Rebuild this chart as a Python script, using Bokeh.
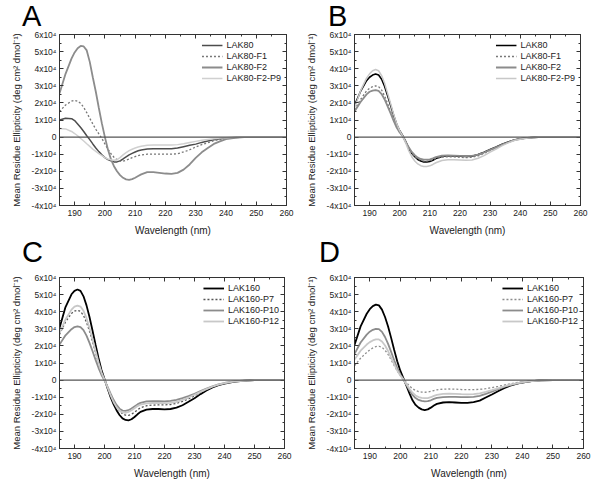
from bokeh.plotting import figure
from bokeh.models import (FixedTicker, LinearAxis, Span, Legend, LegendItem, Range1d, Div)
from bokeh.layouts import column, row
from bokeh.embed import file_html
from bokeh.resources import INLINE

# ---------------- data (ellipticity in units of 1e4 deg cm2 dmol-1) ----------------
wavelength = [185, 187, 189, 190, 191, 192, 193, 194, 195, 196, 197, 198, 199, 200,
              201, 202, 203, 204, 205, 206, 207, 208, 209, 210, 211, 212, 214, 216,
              218, 220, 222, 224, 226, 228, 230, 232, 234, 236, 238, 240, 243, 246,
              250, 255, 260]

# Panel A
a_lak80 = [1.0, 1.1, 1.08, 0.97, 0.77, 0.56, 0.33, 0.08, -0.15, -0.4, -0.64, -0.85, -1.04, -1.2,
           -1.32, -1.39, -1.45, -1.45, -1.39, -1.28, -1.16, -1.04, -0.95, -0.87, -0.8, -0.75, -0.7, -0.68,
           -0.68, -0.68, -0.68, -0.64, -0.56, -0.48, -0.41, -0.31, -0.23, -0.15, -0.1, -0.06, -0.02, 0.0,
           0.0, 0.0, 0.0]
a_f1 = [1.49, 1.88, 2.1, 2.15, 2.1, 1.97, 1.74, 1.43, 1.1, 0.77, 0.46, 0.19, -0.08, -0.4,
        -0.7, -0.97, -1.18, -1.32, -1.41, -1.41, -1.35, -1.28, -1.2, -1.14, -1.08, -1.04, -1.0, -0.99,
        -0.99, -1.0, -1.0, -0.97, -0.87, -0.74, -0.58, -0.44, -0.33, -0.21, -0.14, -0.08, -0.02, 0.0,
        0.0, 0.0, 0.0]
a_f2 = [2.55, 3.7, 4.6, 4.95, 5.2, 5.33, 5.3, 5.07, 4.4, 3.5, 2.65, 1.7, 0.8, 0.0,
        -0.73, -1.3, -1.7, -2.0, -2.22, -2.38, -2.47, -2.5, -2.46, -2.38, -2.28, -2.18, -2.05, -2.05,
        -2.09, -2.13, -2.15, -2.09, -1.9, -1.6, -1.22, -0.89, -0.64, -0.4, -0.25, -0.12, -0.04, 0.0,
        0.0, 0.0, 0.0]
a_p9 = [0.5, 0.48, 0.33, 0.21, 0.08, -0.08, -0.23, -0.39, -0.54, -0.7, -0.83, -0.97, -1.08, -1.2,
        -1.28, -1.33, -1.35, -1.32, -1.2, -1.04, -0.91, -0.79, -0.71, -0.64, -0.58, -0.54, -0.48, -0.46,
        -0.46, -0.46, -0.46, -0.44, -0.39, -0.31, -0.25, -0.19, -0.14, -0.1, -0.06, -0.04, 0.0, 0.0,
        0.0, 0.0, 0.0]

# Panel B
b_lak80 = [1.85, 2.67, 3.3, 3.5, 3.63, 3.69, 3.63, 3.38, 2.96, 2.42, 1.85, 1.27, 0.75, 0.37,
           0.08, -0.27, -0.65, -0.94, -1.15, -1.31, -1.4, -1.46, -1.46, -1.42, -1.35, -1.25, -1.13, -1.1,
           -1.1, -1.12, -1.13, -1.12, -1.02, -0.88, -0.73, -0.58, -0.42, -0.29, -0.17, -0.1, -0.04, 0.0,
           0.0, 0.0, 0.0]
b_f1 = [1.6, 2.2, 2.7, 2.85, 2.95, 3.0, 2.95, 2.75, 2.4, 1.95, 1.5, 1.03, 0.6, 0.28,
        0.05, -0.28, -0.65, -0.93, -1.13, -1.27, -1.35, -1.4, -1.4, -1.38, -1.32, -1.25, -1.17, -1.15,
        -1.16, -1.18, -1.2, -1.18, -1.1, -0.95, -0.78, -0.62, -0.45, -0.31, -0.19, -0.11, -0.04, 0.0,
        0.0, 0.0, 0.0]
b_f2 = [1.5, 2.05, 2.5, 2.65, 2.72, 2.75, 2.7, 2.52, 2.2, 1.8, 1.38, 0.95, 0.56, 0.27,
        0.05, -0.27, -0.6, -0.87, -1.06, -1.2, -1.28, -1.32, -1.32, -1.3, -1.24, -1.17, -1.09, -1.07,
        -1.08, -1.1, -1.11, -1.1, -1.02, -0.9, -0.75, -0.6, -0.44, -0.3, -0.18, -0.1, -0.03, 0.0,
        0.0, 0.0, 0.0]
b_p9 = [1.7, 2.7, 3.45, 3.7, 3.88, 3.95, 3.88, 3.6, 3.15, 2.55, 1.95, 1.33, 0.78, 0.38,
        0.06, -0.35, -0.8, -1.15, -1.4, -1.57, -1.67, -1.72, -1.72, -1.68, -1.6, -1.5, -1.37, -1.32,
        -1.32, -1.34, -1.36, -1.34, -1.24, -1.08, -0.88, -0.7, -0.5, -0.34, -0.2, -0.12, -0.04, 0.0,
        0.0, 0.0, 0.0]

# Panel C
c_lak160 = [3.04, 4.27, 5.02, 5.22, 5.3, 5.22, 4.9, 4.37, 3.69, 2.9, 2.08, 1.29, 0.59, 0.06,
            -0.47, -0.98, -1.41, -1.76, -2.04, -2.24, -2.33, -2.35, -2.29, -2.16, -2.0, -1.86, -1.73, -1.69,
            -1.69, -1.71, -1.69, -1.61, -1.47, -1.27, -1.06, -0.82, -0.61, -0.43, -0.29, -0.2, -0.1, -0.04,
            0.0, 0.0, 0.0]
c_p7 = [2.67, 3.4, 3.9, 4.04, 4.08, 4.02, 3.78, 3.38, 2.86, 2.25, 1.62, 1.0, 0.45, 0.04,
        -0.4, -0.85, -1.25, -1.56, -1.8, -1.97, -2.05, -2.06, -2.0, -1.88, -1.74, -1.62, -1.5, -1.46,
        -1.45, -1.45, -1.43, -1.36, -1.25, -1.1, -0.92, -0.73, -0.55, -0.39, -0.27, -0.18, -0.09, -0.04,
        0.0, 0.0, 0.0]
c_p10 = [2.08, 2.62, 2.98, 3.1, 3.14, 3.1, 2.92, 2.6, 2.18, 1.7, 1.2, 0.72, 0.3, -0.02,
         -0.38, -0.78, -1.15, -1.45, -1.67, -1.78, -1.8, -1.76, -1.66, -1.54, -1.42, -1.33, -1.25, -1.23,
         -1.23, -1.24, -1.22, -1.16, -1.06, -0.94, -0.8, -0.64, -0.49, -0.36, -0.25, -0.17, -0.08, -0.03,
         0.0, 0.0, 0.0]
c_p12 = [2.75, 3.55, 4.12, 4.3, 4.36, 4.3, 4.05, 3.62, 3.05, 2.4, 1.72, 1.05, 0.46, 0.03,
         -0.42, -0.88, -1.28, -1.58, -1.78, -1.89, -1.91, -1.86, -1.76, -1.64, -1.52, -1.43, -1.36, -1.34,
         -1.34, -1.35, -1.33, -1.27, -1.16, -1.02, -0.86, -0.69, -0.53, -0.38, -0.26, -0.18, -0.09, -0.04,
         0.0, 0.0, 0.0]

# Panel D
d_lak160 = [2.06, 3.14, 3.88, 4.15, 4.33, 4.41, 4.37, 4.12, 3.69, 3.14, 2.47, 1.76, 1.1, 0.55,
            0.12, -0.33, -0.78, -1.18, -1.45, -1.61, -1.71, -1.75, -1.71, -1.61, -1.49, -1.39, -1.31, -1.29,
            -1.31, -1.33, -1.33, -1.29, -1.2, -1.02, -0.84, -0.65, -0.47, -0.33, -0.22, -0.14, -0.06, -0.02,
            0.0, 0.0, 0.0]
d_p7 = [0.84, 1.28, 1.62, 1.77, 1.88, 1.96, 1.98, 1.92, 1.75, 1.5, 1.18, 0.85, 0.53, 0.28,
        0.07, -0.14, -0.34, -0.5, -0.61, -0.67, -0.7, -0.71, -0.7, -0.66, -0.61, -0.57, -0.53, -0.52,
        -0.53, -0.55, -0.56, -0.56, -0.54, -0.5, -0.44, -0.37, -0.29, -0.22, -0.15, -0.1, -0.05, -0.02,
        0.0, 0.0, 0.0]
d_p10 = [1.53, 2.2, 2.66, 2.83, 2.94, 3.0, 2.98, 2.82, 2.52, 2.12, 1.65, 1.16, 0.7, 0.33,
         0.05, -0.28, -0.6, -0.87, -1.05, -1.16, -1.22, -1.24, -1.23, -1.18, -1.1, -1.04, -0.99, -0.98,
         -0.98, -1.0, -1.0, -0.98, -0.92, -0.8, -0.67, -0.53, -0.4, -0.29, -0.2, -0.13, -0.06, -0.02,
         0.0, 0.0, 0.0]
d_p12 = [1.2, 1.72, 2.08, 2.22, 2.32, 2.38, 2.38, 2.26, 2.02, 1.7, 1.32, 0.93, 0.56, 0.27,
         0.04, -0.24, -0.51, -0.74, -0.9, -0.99, -1.04, -1.06, -1.05, -1.0, -0.92, -0.86, -0.8, -0.79,
         -0.8, -0.82, -0.83, -0.82, -0.77, -0.69, -0.59, -0.48, -0.37, -0.27, -0.19, -0.12, -0.06, -0.02,
         0.0, 0.0, 0.0]

names_80 = ["LAK80", "LAK80-F1", "LAK80-F2", "LAK80-F2-P9"]
names_160 = ["LAK160", "LAK160-P7", "LAK160-P10", "LAK160-P12"]
panel_letters = ["A", "B", "C", "D"]

x_ticks = [190, 200, 210, 220, 230, 240, 250, 260]
x_minor = [185, 195, 205, 215, 225, 235, 245, 255]
y_ticks = [-4, -3, -2, -1, 0, 1, 2, 3, 4, 5, 6]
y_minor = [-3.5, -2.5, -1.5, -0.5, 0.5, 1.5, 2.5, 3.5, 4.5, 5.5]
y_labels = {-4: "-4x10⁴", -3: "-3x10⁴", -2: "-2x10⁴", -1: "-1x10⁴", 0: "0",
            1: "1x10⁴", 2: "2x10⁴", 3: "3x10⁴", 4: "4x10⁴", 5: "5x10⁴", 6: "6x10⁴"}

FONT = "Liberation Sans"


def style_axis(ax):
    ax.axis_line_color = "#333333"
    ax.major_tick_line_color = "#333333"
    ax.minor_tick_line_color = "#333333"
    ax.major_tick_in = 4
    ax.major_tick_out = 0
    ax.minor_tick_in = 2
    ax.minor_tick_out = 0
    ax.major_label_text_font = FONT
    ax.major_label_text_font_size = "8.5px"
    ax.major_label_text_color = "#222222"
    ax.axis_label_text_font = FONT
    ax.axis_label_text_font_size = "10px"
    ax.axis_label_text_font_style = "normal"
    ax.axis_label_text_color = "#222222"


def make_panel(width, height, borders, series, names, colors, dashes, widths):
    bl, br, bt, bb = borders
    p = figure(width=width, height=height, output_backend="svg", toolbar_location=None,
               x_range=Range1d(185, 260), y_range=Range1d(-4, 6),
               min_border_left=bl, min_border_right=br, min_border_top=bt, min_border_bottom=bb)
    p.xgrid.visible = False
    p.ygrid.visible = False
    p.outline_line_color = "#333333"
    p.background_fill_color = "white"
    p.border_fill_color = "white"

    xa = p.xaxis[0]
    ya = p.yaxis[0]
    xa.ticker = FixedTicker(ticks=x_ticks, minor_ticks=x_minor)
    ya.ticker = FixedTicker(ticks=y_ticks, minor_ticks=y_minor)
    ya.major_label_overrides = y_labels
    xa.axis_label = "Wavelength (nm)"
    ya.axis_label = "Mean Residue Ellipticity (deg cm² dmol⁻¹)"
    style_axis(xa)
    style_axis(ya)
    ya.axis_label_text_font_size = "9.5px"
    xa.major_label_standoff = 4
    xa.axis_label_standoff = 6
    ya.major_label_standoff = 3
    ya.axis_label_standoff = 7

    # mirrored axes (ticks only)
    top = LinearAxis(ticker=FixedTicker(ticks=x_ticks, minor_ticks=x_minor),
                     major_label_overrides={t: "" for t in x_ticks})
    right = LinearAxis(ticker=FixedTicker(ticks=y_ticks, minor_ticks=y_minor),
                       major_label_overrides={t: "" for t in y_ticks})
    for ax in (top, right):
        style_axis(ax)
        ax.major_label_standoff = 0
        ax.major_label_text_font_size = "0px"
    p.add_layout(top, "above")
    p.add_layout(right, "right")

    p.add_layout(Span(location=0, dimension="width", line_color="#555555", line_width=1.3))

    items = []
    for ys, nm, c, d, w in zip(series, names, colors, dashes, widths):
        r = p.line(wavelength, ys, line_color=c, line_dash=d, line_width=w)
        items.append(LegendItem(label=nm, renderers=[r]))
    leg = Legend(items=items, location="top_right", border_line_alpha=0,
                 background_fill_alpha=0, label_text_font=FONT, label_text_font_size="9px",
                 label_text_color="#222222", glyph_width=21, glyph_height=10, label_height=11,
                 spacing=0, padding=3, margin=2, label_standoff=4)
    p.add_layout(leg)
    return p


def letter_div(letter, width, height, pad_left, line_height):
    html = ('<div style="font-family:\'Liberation Sans\',Arial,sans-serif;font-size:29px;'
            'line-height:%.1fpx;margin:0;padding:0 0 0 %dpx;color:#000;white-space:nowrap;">%s</div>'
            % (line_height, pad_left, letter))
    return Div(text=html, width=width, height=height, margin=0)


pA = make_panel(300, 218, (59, 14, 8, 39), [a_lak80, a_f1, a_f2, a_p9], names_80,
                ["#4d4d4d", "#777777", "#8c8c8c", "#d0d0d0"], ["solid", "2 2", "solid", "solid"],
                [1.5, 1.3, 1.8, 1.5])
pB = make_panel(292, 218, (54, 12, 8, 39), [b_lak80, b_f1, b_f2, b_p9], names_80,
                ["#000000", "#777777", "#8c8c8c", "#c8c8c8"], ["solid", "2 2", "solid", "solid"],
                [1.6, 1.3, 1.8, 1.5])
pC = make_panel(300, 219, (59, 16, 15, 33), [c_lak160, c_p7, c_p10, c_p12], names_160,
                ["#000000", "#555555", "#8c8c8c", "#c8c8c8"], ["solid", "2 2", "solid", "solid"],
                [1.8, 1.3, 1.8, 1.8])
pD = make_panel(292, 219, (54, 9, 15, 33), [d_lak160, d_p7, d_p10, d_p12], names_160,
                ["#000000", "#8c8c8c", "#8c8c8c", "#c8c8c8"], ["solid", "2 2", "solid", "solid"],
                [1.8, 1.3, 1.8, 1.8])

dA = letter_div(panel_letters[0], 300, 26, 22, 33.0)
dB = letter_div(panel_letters[1], 292, 26, 28, 33.0)
dC = letter_div(panel_letters[2], 300, 18, 22, 16.0)
dD = letter_div(panel_letters[3], 292, 18, 19, 16.0)

layout = column(row(dA, dB), row(pA, pB), row(dC, dD), row(pC, pD))
open("out.html", "w").write(file_html(layout, INLINE))
